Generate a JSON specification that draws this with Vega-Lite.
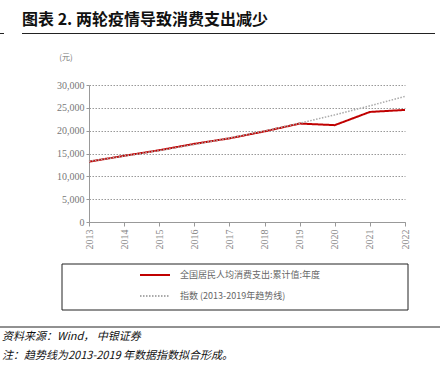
{
  "$schema": "https://vega.github.io/schema/vega-lite/v6.json",
  "width": 316,
  "height": 137,
  "autosize": "none",
  "padding": {"left": 89, "top": 85, "right": 35, "bottom": 146},
  "background": "white",
  "config": {"view": {"stroke": null}},
  "datasets": {
    "series": [
      {"year": "2013", "value": 13220, "s": "全国居民人均消费支出:累计值:年度"},
      {"year": "2014", "value": 14491, "s": "全国居民人均消费支出:累计值:年度"},
      {"year": "2015", "value": 15712, "s": "全国居民人均消费支出:累计值:年度"},
      {"year": "2016", "value": 17111, "s": "全国居民人均消费支出:累计值:年度"},
      {"year": "2017", "value": 18322, "s": "全国居民人均消费支出:累计值:年度"},
      {"year": "2018", "value": 19853, "s": "全国居民人均消费支出:累计值:年度"},
      {"year": "2019", "value": 21559, "s": "全国居民人均消费支出:累计值:年度"},
      {"year": "2020", "value": 21210, "s": "全国居民人均消费支出:累计值:年度"},
      {"year": "2021", "value": 24100, "s": "全国居民人均消费支出:累计值:年度"},
      {"year": "2022", "value": 24538, "s": "全国居民人均消费支出:累计值:年度"},
      {"year": "2013", "value": 13300, "s": "指数 (2013-2019年趋势线)"},
      {"year": "2014", "value": 14420, "s": "指数 (2013-2019年趋势线)"},
      {"year": "2015", "value": 15640, "s": "指数 (2013-2019年趋势线)"},
      {"year": "2016", "value": 16960, "s": "指数 (2013-2019年趋势线)"},
      {"year": "2017", "value": 18390, "s": "指数 (2013-2019年趋势线)"},
      {"year": "2018", "value": 19950, "s": "指数 (2013-2019年趋势线)"},
      {"year": "2019", "value": 21630, "s": "指数 (2013-2019年趋势线)"},
      {"year": "2020", "value": 23460, "s": "指数 (2013-2019年趋势线)"},
      {"year": "2021", "value": 25440, "s": "指数 (2013-2019年趋势线)"},
      {"year": "2022", "value": 27500, "s": "指数 (2013-2019年趋势线)"}
    ]
  },
  "layer": [
    {
      "data": {"values": [{"a": 1}]},
      "mark": {"type": "rect", "fill": "white", "stroke": "#222222", "strokeWidth": 1},
      "encoding": {"x": {"value": -27}, "x2": {"value": 319}, "y": {"value": 179}, "y2": {"value": 225}}
    },
    {
      "data": {"name": "series"},
      "encoding": {
        "x": {"field": "year", "type": "ordinal", "scale": {"type": "point", "padding": 0},
          "axis": {"title": null, "labelAngle": -90, "labelAlign": "right", "labelBaseline": "middle", "labelColor": "#888888", "labelFont": "Liberation Serif", "labelFontSize": 10, "domainColor": "#999999", "tickColor": "#999999", "tickSize": 4, "labelPadding": 3, "grid": false}},
        "y": {"field": "value", "type": "quantitative", "scale": {"domain": [0, 30000]},
          "axis": {"title": null, "format": ",d", "values": [0, 5000, 10000, 15000, 20000, 25000, 30000], "labelColor": "#777777", "labelFont": "Liberation Serif", "labelFontSize": 10, "domainColor": "#999999", "tickColor": "#999999", "tickSize": 3, "gridColor": "#999999", "gridDash": [1.5, 1.5], "gridWidth": 1, "labelOverlap": false}},
        "color": {"field": "s", "type": "nominal", "sort": null,
          "scale": {"domain": ["全国居民人均消费支出:累计值:年度", "指数 (2013-2019年趋势线)"], "range": ["#C00000", "#AAAAAA"]},
          "legend": {"title": null, "orient": "none", "legendX": 50, "legendY": 174, "direction": "vertical", "symbolType": "stroke", "symbolSize": 900, "symbolStrokeWidth": 2, "labelFont": "Noto Sans CJK SC", "labelFontSize": 9, "labelColor": "#666666", "rowPadding": -9, "labelOffset": 9}},
        "strokeDash": {"field": "s", "type": "nominal",
          "scale": {"domain": ["全国居民人均消费支出:累计值:年度", "指数 (2013-2019年趋势线)"], "range": [[1, 0], [1.5, 1.5]]},
          "legend": {"title": null, "orient": "none", "legendX": 50, "legendY": 174, "direction": "vertical", "symbolType": "stroke", "symbolSize": 900, "symbolStrokeWidth": 2, "labelFont": "Noto Sans CJK SC", "labelFontSize": 9, "labelColor": "#666666", "rowPadding": -9, "labelOffset": 9}}
      },
      "layer": [
        {
          "transform": [{"filter": "datum.s == '全国居民人均消费支出:累计值:年度'"}],
          "mark": {"type": "line", "strokeWidth": 2}
        },
        {
          "transform": [{"filter": "datum.s == '指数 (2013-2019年趋势线)'"}],
          "mark": {"type": "line", "strokeWidth": 1.5}
        }
      ]
    },
    {
      "data": {"values": [{"t": "图表 2. 两轮疫情导致消费支出减少"}]},
      "mark": {"type": "text", "align": "left", "baseline": "middle", "font": "Noto Sans CJK SC", "fontSize": 16, "fontWeight": "bold", "color": "#111111"},
      "encoding": {"text": {"field": "t"}, "x": {"value": -67}, "y": {"value": -65}}
    },
    {
      "data": {"values": [{"a": 1}]},
      "mark": {"type": "rule", "color": "#222222", "strokeWidth": 1},
      "encoding": {"x": {"value": -67}, "x2": {"value": 346}, "y": {"value": -51.5}}
    },
    {
      "data": {"values": [{"a": 1}]},
      "mark": {"type": "rule", "color": "#222222", "strokeWidth": 1},
      "encoding": {"x": {"value": -89}, "x2": {"value": -85}, "y": {"value": -51.5}}
    },
    {
      "data": {"values": [{"t": "(元)"}]},
      "mark": {"type": "text", "align": "center", "baseline": "middle", "font": "Noto Sans CJK SC", "fontSize": 8, "color": "#777777"},
      "encoding": {"text": {"field": "t"}, "x": {"value": -23}, "y": {"value": -27}}
    },
    {
      "data": {"values": [{"a": 1}]},
      "mark": {"type": "rule", "color": "#222222", "strokeWidth": 1},
      "encoding": {"x": {"value": -89}, "x2": {"value": 351}, "y": {"value": 242}}
    },
    {
      "data": {"values": [{"t": "资料来源：Wind， 中银证券"}]},
      "mark": {"type": "text", "align": "left", "baseline": "middle", "font": "Noto Sans CJK SC", "fontSize": 11, "fontStyle": "italic", "color": "#111111"},
      "encoding": {"text": {"field": "t"}, "x": {"value": -87}, "y": {"value": 252}}
    },
    {
      "data": {"values": [{"t": "注：趋势线为2013-2019 年数据指数拟合形成。"}]},
      "mark": {"type": "text", "align": "left", "baseline": "middle", "font": "Noto Sans CJK SC", "fontSize": 11, "fontStyle": "italic", "color": "#111111"},
      "encoding": {"text": {"field": "t"}, "x": {"value": -87}, "y": {"value": 271}}
    }
  ]
}
